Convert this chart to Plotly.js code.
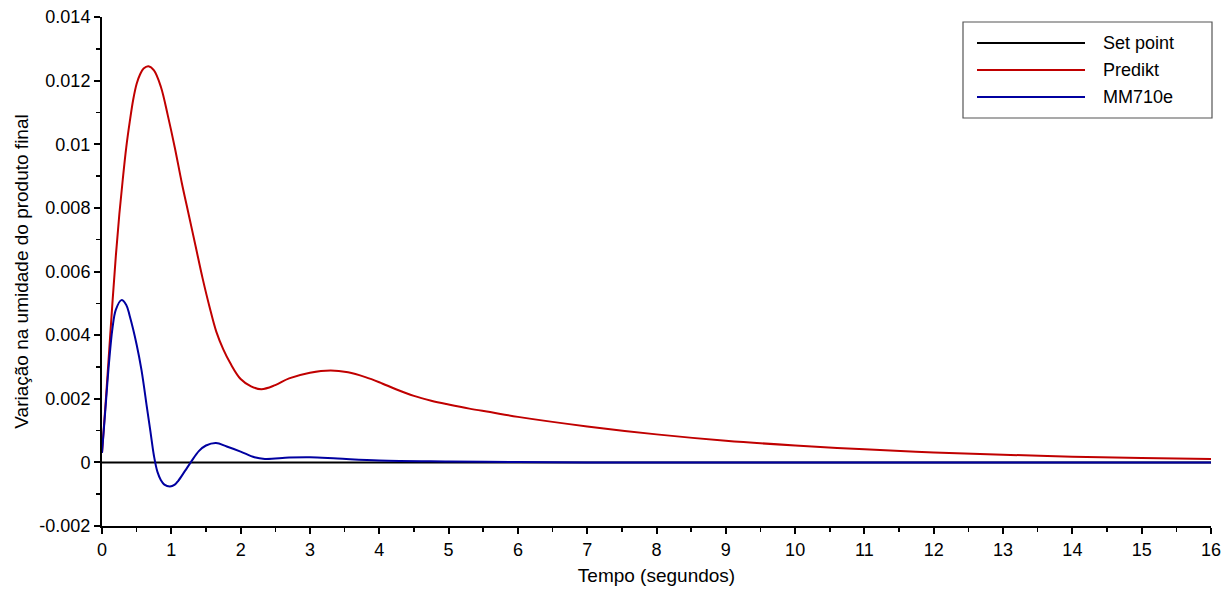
<!DOCTYPE html>
<html>
<head>
<meta charset="utf-8">
<script src="https://cdn.plot.ly/plotly-3.0.1.min.js"></script>
<style>html,body{margin:0;padding:0;background:#fff;}#chart{width:1232px;height:593px;}</style>
</head>
<body>
<div id="chart"></div>
<script>
// Series names and colours
const seriesNames = ['Set point', 'Predikt', 'MM710e'];
const seriesColors = ['#000000', '#c00000', '#0000a0'];

// Set point
const setX = [0, 16];
const setY = [0, 0];

// Predikt
const predX = [0, 0.05, 0.1, 0.15, 0.2, 0.25, 0.3, 0.35, 0.4, 0.45, 0.5, 0.55, 0.6, 0.67, 0.75, 0.85, 0.95, 1.05, 1.15, 1.25, 1.35, 1.45, 1.55, 1.65, 1.75, 1.85, 2.0, 2.15, 2.3, 2.5, 2.7, 3.0, 3.3, 3.55, 3.8, 4.0, 4.25, 4.5, 4.75, 5.0, 5.3, 5.6, 6, 7, 8, 9, 10, 11, 12, 13, 14, 15, 16];
const predY = [0.0003, 0.0018, 0.0034, 0.0050, 0.0065, 0.0078, 0.0089, 0.0099, 0.0107, 0.0114, 0.0119, 0.0122, 0.01238, 0.01245, 0.01232, 0.0118, 0.0109, 0.0099, 0.0088, 0.0078, 0.0068, 0.0058, 0.0049, 0.0041, 0.00355, 0.00312, 0.00262, 0.00239, 0.0023, 0.00243, 0.00264, 0.00282, 0.00289, 0.00283, 0.00268, 0.00252, 0.00229, 0.00209, 0.00194, 0.00182, 0.00169, 0.00158, 0.00143, 0.00113, 0.00088, 0.00068, 0.00053, 0.00041, 0.00031, 0.00024, 0.00018, 0.00014, 0.00011];

// MM710e
const mmX = [0, 0.05, 0.1, 0.15, 0.2, 0.28, 0.35, 0.4, 0.5, 0.57, 0.65, 0.7, 0.75, 0.8, 0.85, 0.9, 0.98, 1.05, 1.1, 1.2, 1.28, 1.4, 1.5, 1.645, 1.8, 2.0, 2.2, 2.35, 2.7, 3.0, 3.4, 4, 5, 6, 7, 8, 10, 12, 14, 16];
const mmY = [0.0003, 0.0017, 0.0031, 0.0042, 0.0048, 0.0051, 0.00495, 0.0046, 0.0037, 0.0029, 0.0017, 0.00095, 0.0002, -0.0003, -0.00056, -0.0007, -0.00076, -0.0007, -0.00058, -0.00026, 0.0, 0.00036, 0.00053, 0.00061, 0.0005, 0.00034, 0.00016, 0.00011, 0.00015, 0.00016, 0.00012, 0.00006, 0.00003, 0.00001, 0, 0, 0, 0, 0, 0];

// Ticks
const xTickVals = [0,1,2,3,4,5,6,7,8,9,10,11,12,13,14,15,16];
const yTickVals = [-0.002, 0, 0.002, 0.004, 0.006, 0.008, 0.01, 0.012, 0.014];
const yTickText = ['-0.002', '0', '0.002', '0.004', '0.006', '0.008', '0.01', '0.012', '0.014'];

const seriesX = [setX, predX, mmX];
const seriesY = [setY, predY, mmY];
const traces = seriesNames.map((n, i) => ({
  x: seriesX[i], y: seriesY[i], name: n, mode: 'lines', showlegend: false,
  line: i === 0 ? {color: seriesColors[i], width: 2} : {color: seriesColors[i], width: 2, shape: 'spline', smoothing: 1}
}));

// Manual legend (positions in paper fraction of plot area)
const W = 1232, H = 593, mL = 102, mR = 21, mT = 17, mB = 67;
const pw = W - mL - mR, ph = H - mT - mB;
const px2x = p => (p - mL) / pw;
const py2y = p => 1 - (p - mT) / ph;
const fontFam = '"Liberation Sans", Arial, sans-serif';

const shapes = [{
  type: 'rect', xref: 'paper', yref: 'paper',
  x0: px2x(963), x1: px2x(1212), y0: py2y(118), y1: py2y(22),
  line: {color: '#555555', width: 1.2}, fillcolor: '#ffffff', layer: 'above'
}];
const annotations = [];
const rowY = [43, 70, 97];
seriesNames.forEach((n, i) => {
  shapes.push({type: 'line', xref: 'paper', yref: 'paper', x0: px2x(977), x1: px2x(1085), y0: py2y(rowY[i]), y1: py2y(rowY[i]),
    line: {color: seriesColors[i], width: 2}, layer: 'above'});
  annotations.push({xref: 'paper', yref: 'paper', x: px2x(1101), y: py2y(rowY[i]), xanchor: 'left', yanchor: 'middle',
    text: n, showarrow: false, font: {family: fontFam, size: 18, color: '#000'}});
});

const layout = {
  width: W, height: H,
  margin: {l: mL, r: mR, t: mT, b: mB},
  paper_bgcolor: '#ffffff', plot_bgcolor: '#ffffff',
  font: {family: fontFam, size: 18, color: '#000'},
  showlegend: false,
  shapes: shapes,
  annotations: annotations,
  xaxis: {
    range: [0, 16], tickvals: xTickVals,
    showgrid: false, zeroline: false,
    showline: true, linecolor: '#000', linewidth: 2,
    ticks: 'outside', ticklen: 6, tickwidth: 2, tickcolor: '#000',
    minor: {dtick: 0.5, ticks: 'outside', ticklen: 4, tickwidth: 1.5, tickcolor: '#000', showgrid: false},
    tickfont: {family: fontFam, size: 18},
    title: {text: 'Tempo (segundos)', font: {family: fontFam, size: 19}, standoff: 10}
  },
  yaxis: {
    range: [-0.002, 0.014], tickvals: yTickVals, ticktext: yTickText,
    showgrid: false, zeroline: false,
    showline: true, linecolor: '#000', linewidth: 2,
    ticks: 'outside', ticklen: 6, tickwidth: 2, tickcolor: '#000',
    minor: {dtick: 0.001, tick0: 0, ticks: 'outside', ticklen: 4, tickwidth: 1.5, tickcolor: '#000', showgrid: false},
    tickfont: {family: fontFam, size: 18},
    title: {text: 'Variação na umidade do produto final', font: {family: fontFam, size: 19}, standoff: 6}
  }
};

Plotly.newPlot('chart', traces, layout, {displayModeBar: false, staticPlot: true});
</script>
</body>
</html>
